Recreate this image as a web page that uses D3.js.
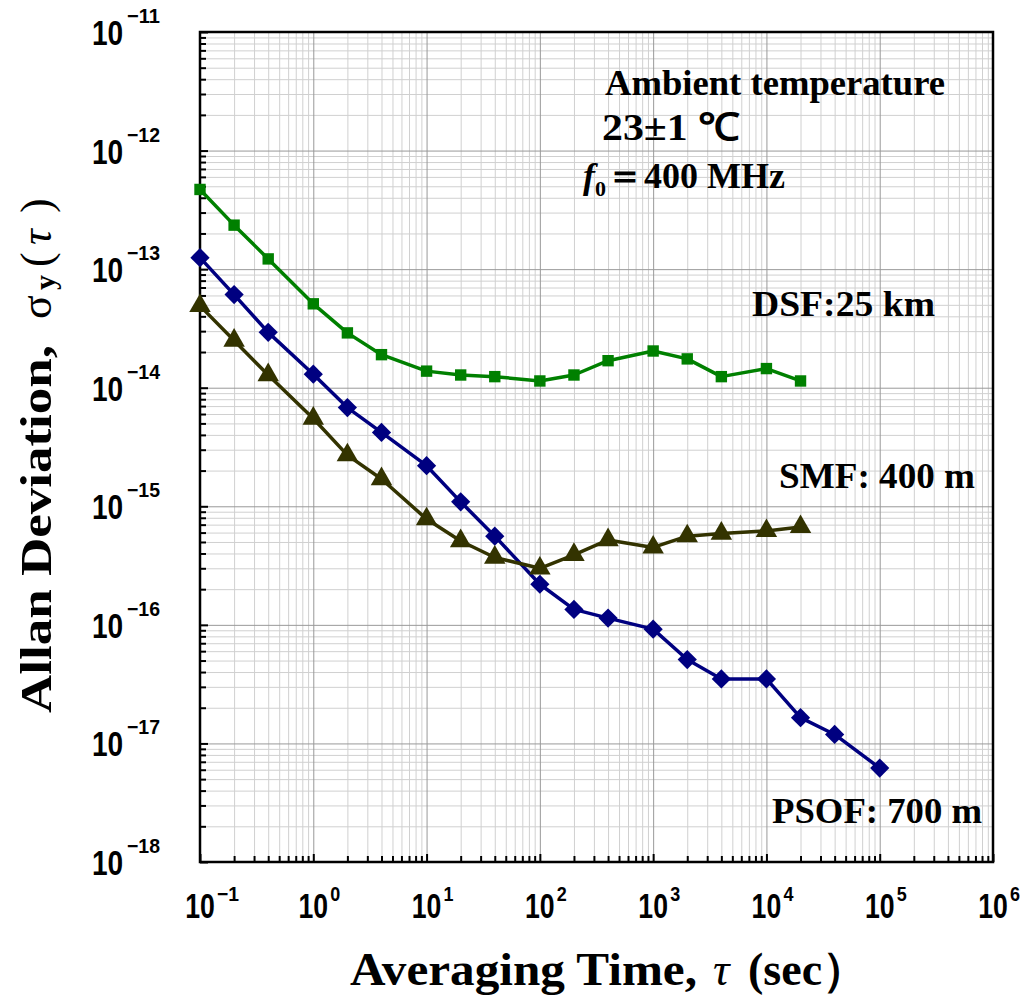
<!DOCTYPE html>
<html>
<head>
<meta charset="utf-8">
<script src="https://cdn.jsdelivr.net/npm/d3@7"></script>
<style>
  body { margin: 0; background: #fff; }
  .grid-minor line { stroke: #d0d0d0; stroke-width: 1; }
  .grid-major line { stroke: #999; stroke-width: 1; }
  .grid-minor path, .grid-major path { display: none; }
  .tick-axis path { display: none; }
  .tick-axis line { stroke: #000; stroke-width: 2; }
  .ticklab { font-family: "Liberation Sans", Arial, sans-serif; font-weight: bold; fill: #000; }
  .serif { font-family: "Liberation Serif", "Times New Roman", serif; font-weight: bold; fill: #000; }
</style>
</head>
<body>
<div id="chart"></div>
<script>
// averaging times (s)
var tauShort = [0.1, 0.2, 0.4, 1, 2, 4, 10, 20, 40, 100, 200, 400, 1000, 2000, 4000, 10000, 20000];
var tauLong = [0.1, 0.2, 0.4, 1, 2, 4, 10, 20, 40, 100, 200, 400, 1000, 2000, 4000, 10000, 20000, 40000, 100000];

// Allan deviation
var dsfValues = [4.7e-13, 2.35e-13, 1.22e-13, 5.1e-14, 2.9e-14, 1.9e-14, 1.38e-14, 1.28e-14, 1.24e-14,
                 1.14e-14, 1.28e-14, 1.69e-14, 2.04e-14, 1.75e-14, 1.24e-14, 1.45e-14, 1.14e-14];
var psofValues = [1.25e-13, 6.1e-14, 2.93e-14, 1.3e-14, 6.8e-15, 4.2e-15, 2.2e-15, 1.09e-15, 5.6e-16,
                  2.2e-16, 1.35e-16, 1.14e-16, 9.2e-17, 5.1e-17, 3.5e-17, 3.5e-17, 1.65e-17, 1.19e-17, 6.2e-18];
var smfValues = [4.9e-14, 2.5e-14, 1.28e-14, 5.5e-15, 2.7e-15, 1.7e-15, 7.8e-16, 5.1e-16, 3.7e-16,
                 3.0e-16, 3.9e-16, 5.2e-16, 4.5e-16, 5.6e-16, 5.9e-16, 6.2e-16, 6.7e-16];

// tick labels (exponents)
var xExponents = ["-1", "0", "1", "2", "3", "4", "5", "6"];
var yExponents = ["-11", "-12", "-13", "-14", "-15", "-16", "-17", "-18"];

var margin = { top: 32, right: 32, bottom: 146, left: 200 },
    width = 1025 - margin.left - margin.right,
    height = 1008 - margin.top - margin.bottom;

var x = d3.scaleLog().domain([0.1, 1e6]).range([0, width]);
var y = d3.scaleLog().domain([1e-18, 1e-11]).range([height, 0]);

var svg = d3.select("#chart").append("svg")
    .attr("width", 1025)
    .attr("height", 1008);

var g = svg.append("g")
    .attr("transform", "translate(" + margin.left + "," + margin.top + ")");

function isDecade(v) {
    var l = Math.log10(v);
    return Math.abs(l - Math.round(l)) < 1e-6;
}
var xMinor = x.ticks().filter(function (d) { return !isDecade(d); });
var xMajor = x.ticks().filter(isDecade);
var yMinor = y.ticks().filter(function (d) { return !isDecade(d); });
var yMajor = y.ticks().filter(isDecade);

// grid
g.append("g").attr("class", "grid-minor")
    .attr("transform", "translate(0," + height + ")")
    .call(d3.axisBottom(x).tickValues(xMinor).tickSize(-height).tickFormat(""));
g.append("g").attr("class", "grid-minor")
    .call(d3.axisLeft(y).tickValues(yMinor).tickSize(-width).tickFormat(""));
g.append("g").attr("class", "grid-major")
    .attr("transform", "translate(0," + height + ")")
    .call(d3.axisBottom(x).tickValues(xMajor).tickSize(-height).tickFormat(""));
g.append("g").attr("class", "grid-major")
    .call(d3.axisLeft(y).tickValues(yMajor).tickSize(-width).tickFormat(""));

// inward ticks on bottom and left
g.append("g").attr("class", "tick-axis")
    .attr("transform", "translate(0," + height + ")")
    .call(d3.axisBottom(x).tickValues(xMinor).tickSize(-6).tickFormat(""));
g.append("g").attr("class", "tick-axis")
    .attr("transform", "translate(0," + height + ")")
    .call(d3.axisBottom(x).tickValues(xMajor).tickSize(-8).tickFormat(""));
g.append("g").attr("class", "tick-axis")
    .call(d3.axisLeft(y).tickValues(yMinor).tickSize(-6).tickFormat(""));
g.append("g").attr("class", "tick-axis")
    .call(d3.axisLeft(y).tickValues(yMajor).tickSize(-8).tickFormat(""));

// frame
g.append("rect")
    .attr("width", width).attr("height", height)
    .attr("fill", "none").attr("stroke", "#000").attr("stroke-width", 2.5);

// tick labels: narrow "10" (squeezed) with a superscript exponent
var xl = g.append("g").selectAll("g")
    .data(xMajor)
    .enter().append("g")
    .attr("transform", function (d) { return "translate(" + x(d) + "," + (height + 56) + ")"; });
xl.append("text").attr("class", "ticklab")
    .attr("transform", "scale(0.74,1)")
    .attr("text-anchor", "middle").attr("font-size", 36)
    .text("10");
xl.append("text").attr("class", "ticklab")
    .attr("x", 17).attr("y", -17).attr("font-size", 21)
    .attr("textLength", function (d, i) { return xExponents[i].length > 1 ? 22 : 10; })
    .attr("lengthAdjust", "spacingAndGlyphs")
    .text(function (d, i) { return xExponents[i].replace("-", "\u2212"); });

var yl = g.append("g").selectAll("g")
    .data(yMajor.slice().reverse())
    .enter().append("g")
    .attr("transform", function (d) { return "translate(-108," + y(d) + ")"; });
yl.append("text").attr("class", "ticklab")
    .attr("transform", "scale(0.78,1)")
    .attr("y", 13).attr("font-size", 36)
    .text("10");
yl.append("text").attr("class", "ticklab")
    .attr("x", 35).attr("y", -9).attr("font-size", 21)
    .attr("textLength", 33).attr("lengthAdjust", "spacingAndGlyphs")
    .text(function (d, i) { return yExponents[i].replace("-", "\u2212"); });

// series
var series = [
    { tau: tauShort, values: dsfValues, color: "#008000", symbol: "square" },
    { tau: tauLong, values: psofValues, color: "#000080", symbol: "diamond" },
    { tau: tauShort, values: smfValues, color: "#333300", symbol: "triangle" }
];

var line = d3.line()
    .x(function (d) { return x(d[0]); })
    .y(function (d) { return y(d[1]); });

series.forEach(function (s) {
    var pts = s.tau.map(function (t, i) { return [t, s.values[i]]; });
    g.append("path")
        .datum(pts)
        .attr("fill", "none")
        .attr("stroke", s.color)
        .attr("stroke-width", 3.5)
        .attr("stroke-linejoin", "round")
        .attr("d", line);

    var sym;
    if (s.symbol === "square") sym = d3.symbol().type(d3.symbolSquare).size(130);
    else if (s.symbol === "diamond") sym = d3.symbol().type(d3.symbolSquare).size(185);
    else sym = d3.symbol().type(d3.symbolTriangle).size(200);

    g.selectAll(null)
        .data(pts)
        .enter().append("path")
        .attr("d", sym)
        .attr("fill", s.color)
        .attr("transform", function (d) {
            return "translate(" + x(d[0]) + "," + y(d[1]) + ")" + (s.symbol === "diamond" ? " rotate(45)" : "");
        });
});

// annotations
function note(txt, px, py, len) {
    return svg.append("text").attr("class", "serif")
        .attr("x", px).attr("y", py).attr("font-size", 36)
        .attr("textLength", len).attr("lengthAdjust", "spacingAndGlyphs")
        .text(txt);
}
note("Ambient temperature", 605, 95, 340);
note("23\u00b11 \u2103", 602, 140, 138).attr("font-size", 38);
var f0 = svg.append("text").attr("class", "serif")
    .attr("x", 583).attr("y", 188).attr("font-size", 36);
f0.append("tspan").style("font-style", "italic").text("f");
f0.append("tspan").attr("font-size", 22).attr("dy", 8).text("0");
f0.append("tspan").attr("dy", -8).attr("font-size", 38).text("\uff1d");
f0.append("tspan").text("400 MHz");
note("DSF:25 km", 752, 316, 183);
note("SMF: 400 m", 779, 488, 196);
note("PSOF: 700 m", 772, 823, 210);

// axis titles
svg.append("text").attr("class", "serif")
    .attr("x", 350).attr("y", 985).attr("font-size", 46)
    .attr("textLength", 347).attr("lengthAdjust", "spacingAndGlyphs")
    .text("Averaging Time,");
svg.append("text").attr("class", "serif")
    .attr("x", 713).attr("y", 985).attr("font-size", 46)
    .style("font-style", "italic").style("font-weight", "normal")
    .text("\u03c4");
svg.append("text").attr("class", "serif")
    .attr("x", 748).attr("y", 985).attr("font-size", 46)
    .text("(sec\uff09");

// y title, pieces placed along the rotated baseline
var yt = svg.append("g")
    .attr("transform", "translate(51,713) rotate(-90)");
yt.append("text").attr("class", "serif")
    .attr("font-size", 44)
    .attr("textLength", 368).attr("lengthAdjust", "spacingAndGlyphs")
    .text("Allan Deviation,");
yt.append("text").attr("class", "serif")
    .attr("x", 394).attr("font-size", 44).style("font-weight", "normal")
    .text("\u03c3");
yt.append("text").attr("class", "serif")
    .attr("x", 423).attr("y", 4).attr("font-size", 30)
    .text("y");
yt.append("text").attr("class", "serif")
    .attr("x", 446).attr("font-size", 44).style("font-weight", "normal")
    .text("(");
yt.append("text").attr("class", "serif")
    .attr("x", 468).attr("font-size", 44).style("font-style", "italic").style("font-weight", "normal")
    .text("\u03c4");
yt.append("text").attr("class", "serif")
    .attr("x", 500).attr("font-size", 44).style("font-weight", "normal")
    .text(")");
</script>
</body>
</html>
